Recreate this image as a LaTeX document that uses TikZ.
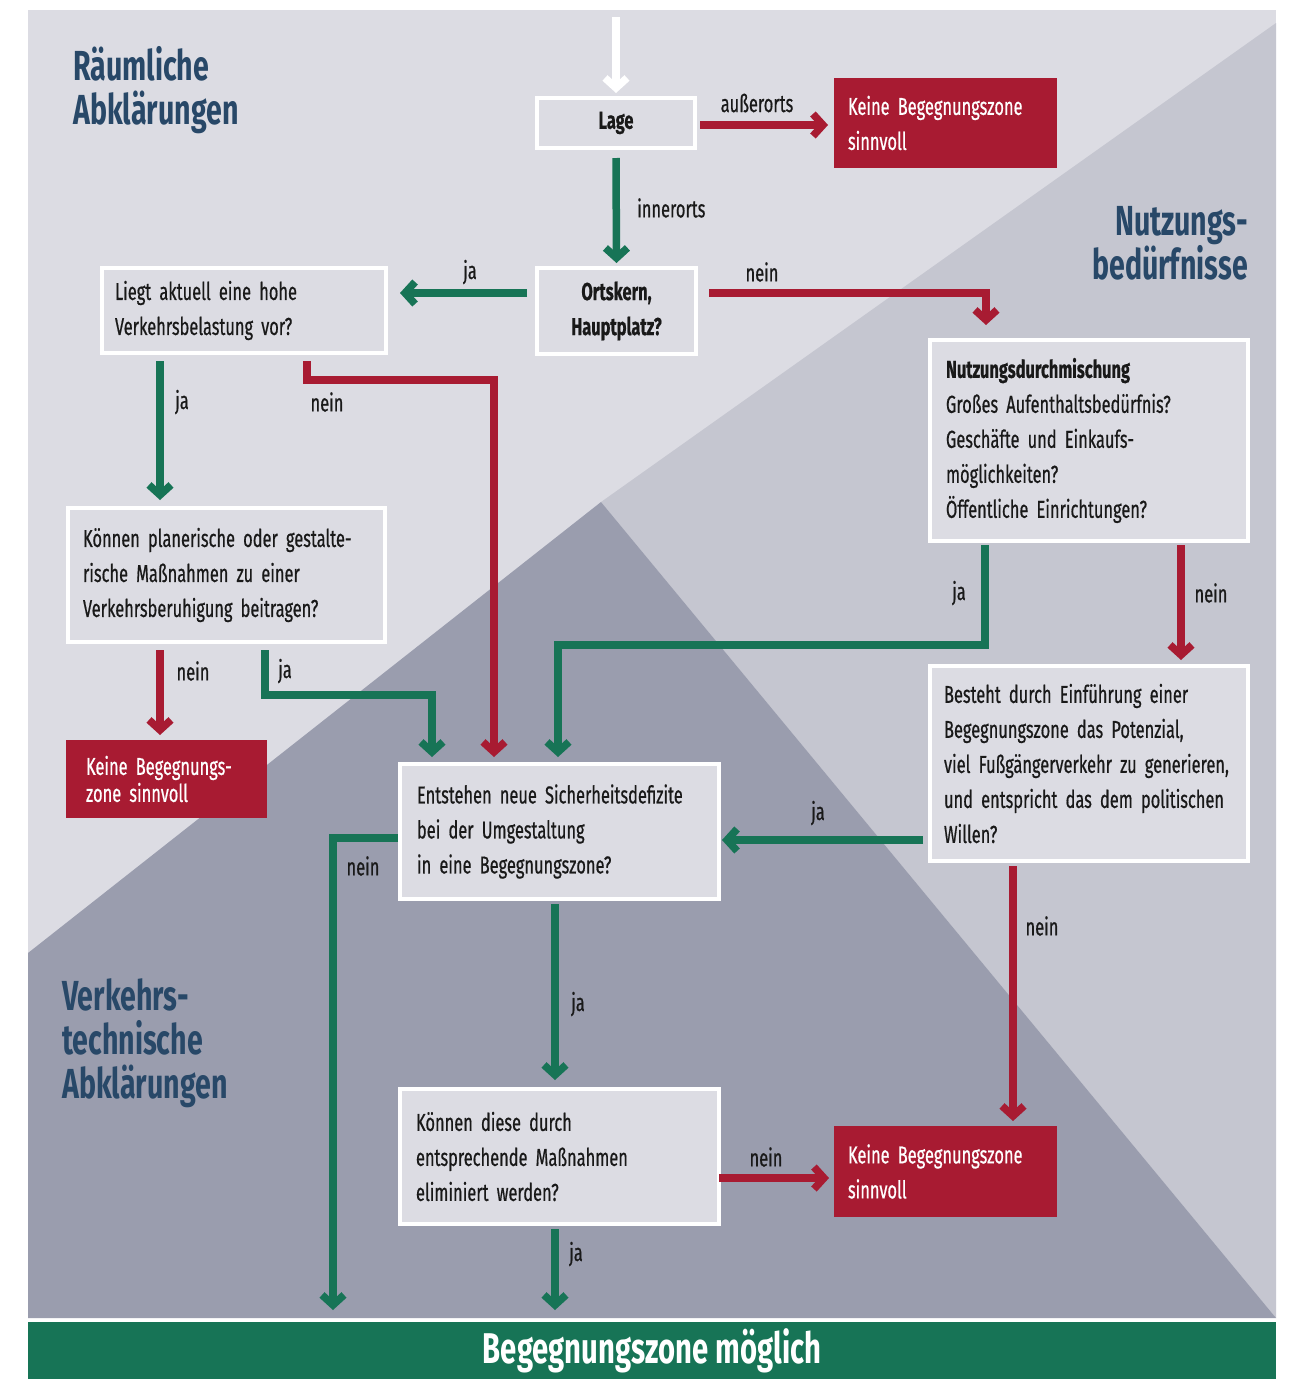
\documentclass[tikz,border=0pt]{standalone}
\usepackage{fontspec}
\setmainfont{Fira Sans}[FakeStretch=0.68]
\newfontfamily\bodyfont{Fira Sans}[FakeStretch=0.67, FakeBold=0.6]
\usetikzlibrary{arrows.meta,calc}
\definecolor{bglight}{RGB}{220,220,227}
\definecolor{bgmid}{RGB}{197,198,208}
\definecolor{bgdark}{RGB}{154,157,174}
\definecolor{boxfill}{RGB}{220,220,227}
\definecolor{arrred}{RGB}{168,27,50}
\definecolor{arrgreen}{RGB}{23,116,86}
\definecolor{titleblue}{RGB}{40,72,104}
\definecolor{txt}{RGB}{25,25,25}
\newcommand\fbody{\bodyfont\fontsize{24.5}{35}\selectfont\spaceskip=3.6pt plus 1pt minus 1pt\relax}
\newcommand\fkeine{\bodyfont\fontsize{24.5}{27}\selectfont\spaceskip=3.6pt plus 1pt minus 1pt\relax}
\newcommand\ftitle{\fontsize{42}{44}\selectfont\bfseries}
\newcommand\fbanner{\fontsize{43}{44}\selectfont\bfseries\spaceskip=7pt\relax}
\begin{document}
\begin{tikzpicture}[x=1pt,y=-1pt,
  qbox/.style={draw=white, line width=4pt, fill=boxfill, anchor=north west,
    inner xsep=13pt, inner ysep=0pt, outer sep=0pt, align=left, font=\fbody, text=txt},
  rbox/.style={fill=arrred, anchor=north west, inner xsep=14pt, inner ysep=0pt,
    outer sep=0pt, align=left, font=\fbody, text=white},
  lbl/.style={font=\fbody, text=txt, inner sep=0pt},
  ttl/.style={font=\ftitle, text=titleblue, inner sep=0pt},
  conn/.style={line width=7.5pt, line join=miter, -{Straight Barb[length=10pt,width=22pt]}},
  gconn/.style={conn, draw=arrgreen},
  rconn/.style={conn, draw=arrred},
  wconn/.style={conn, draw=white}]
\useasboundingbox (0,0) rectangle (1290,1379);
\fill[white] (0,0) rectangle (1290,1379);
% background regions
\fill[bglight] (28,10) rectangle (1276,1318);
\fill[bgmid] (1276,23) -- (601,502) -- (1276,1318) -- cycle;
\fill[bgdark] (601,502) -- (28,953) -- (28,1318) -- (1276,1318) -- cycle;

% section titles
\node[ttl, anchor=north west, align=left] (t1) at (73,46) {Räumliche\\Abklärungen};
\node[ttl, anchor=north east, align=right] (t2) at (1248,206) {Nutzungs-\\bedürfnisse};
\node[ttl, anchor=north west, align=left] (t3) at (62,978) {Verkehrs-\\technische\\Abklärungen};

% banner
\node[fill=arrgreen, anchor=north west, minimum width=1248pt, minimum height=57pt,
  inner sep=0pt, outer sep=0pt, font=\fbanner, text=white]
  (banner) at (28,1322) {\raisebox{-3pt}{Begegnungszone möglich}};

% boxes
\coordinate (start) at (616,17);
\node[qbox, minimum width=158pt, minimum height=50pt, align=center, text width=132pt,
  font=\fbody\bfseries] (lage) at (537,98) {Lage};
\node[rbox, minimum width=223pt, minimum height=90pt, text width=195pt] (k1) at (834,78)
  {Keine Begegnungszone\\sinnvoll};
\node[qbox, minimum width=159pt, minimum height=86pt, align=center, text width=133pt,
  font=\fbody\bfseries] (ort) at (537,268) {Ortskern,\\Hauptplatz?};
\node[qbox, minimum width=284pt, minimum height=85pt, text width=258pt] (liegt) at (102,268)
  {Liegt aktuell eine hohe\\Verkehrsbelastung vor?};
\node[qbox, minimum width=317pt, minimum height=134pt, text width=287pt, inner xsep=15pt] (kpl) at (68,508)
  {Können planerische oder gestalte-\\rische Maßnahmen zu einer\\Verkehrsberuhigung beitragen?};
\node[rbox, minimum width=201pt, minimum height=78pt, text width=161pt, font=\fkeine,
  inner xsep=20pt] (k2) at (66,740) {Keine Begegnungs-\\zone sinnvoll};
\node[qbox, minimum width=318pt, minimum height=201pt, text width=286pt, inner xsep=16pt] (nutz) at (930,340)
  {\textbf{Nutzungsdurchmischung}\\Großes Aufenthaltsbedürfnis?\\Geschäfte und Einkaufs-\\möglichkeiten?\\Öffentliche Einrichtungen?};
\node[qbox, minimum width=318pt, minimum height=195pt, text width=290pt, inner xsep=14pt] (best) at (930,666)
  {Besteht durch Einführung einer\\Begegnungszone das Potenzial,\\viel Fußgängerverkehr zu generieren,\\und entspricht das dem politischen\\Willen?};
\node[qbox, minimum width=319pt, minimum height=135pt, text width=285pt, inner xsep=17pt] (ent) at (400,764)
  {Entstehen neue Sicherheitsdefizite\\bei der Umgestaltung\\in eine Begegnungszone?};
\node[qbox, minimum width=319pt, minimum height=135pt, text width=287pt, inner xsep=16pt] (kd) at (400,1089)
  {Können diese durch\\entsprechende Maßnahmen\\eliminiert werden?};
\node[rbox, minimum width=223pt, minimum height=91pt, text width=195pt] (k3) at (834,1126)
  {Keine Begegnungszone\\sinnvoll};

% connectors
\draw[wconn] (start) -- ($(lage.north)+(0,-5)$);
\draw[rconn] ($(lage.north east)+(5,27)$) -- ($(k1.north west)+(-6,47)$);
\draw[gconn] ($(lage.south)+(0,10)$) -- ($(ort.north)+(0,-5)$);
\draw[gconn] ($(ort.north west)+(-10,25)$) -- ($(liegt.north east)+(14,25)$);
\draw[rconn] ($(ort.north east)+(13,25)$) -| ($(nutz.north west)+(56,-15)$);
\draw[gconn] ($(liegt.south west)+(58,8)$) -- ($(kpl.north west)+(92,-8)$);
\draw[rconn] ($(liegt.south west)+(205,8)$) -- ++(0,19) -| ($(ent.north west)+(94,-7)$);
\draw[rconn] ($(kpl.south west)+(92,8)$) -- ($(k2.north west)+(94,-5)$);
\draw[gconn] ($(kpl.south west)+(197,8)$) -- ++(0,45) -| ($(ent.north west)+(32,-7)$);
\draw[gconn] ($(nutz.south west)+(55,4)$) -- ++(0,100) -| ($(ent.north west)+(158,-7)$);
\draw[rconn] ($(nutz.south west)+(251,4)$) -- ($(best.north west)+(251,-6)$);
\draw[gconn] ($(best.north west)+(-7,174)$) -- ($(ent.north east)+(3,76)$);
\draw[gconn] ($(ent.north west)+(-2,74)$) -| ($(banner.north west)+(305,-12)$);
\draw[rconn] ($(best.south west)+(83,5)$) -- ($(k3.north west)+(179,-5)$);
\draw[gconn] ($(ent.south west)+(155,5)$) -- ($(kd.north west)+(155,-9)$);
\draw[rconn] ($(kd.north east)+(0,89)$) -- ($(k3.north west)+(-5,52)$);
\draw[gconn] ($(kd.south west)+(155,5)$) -- ($(banner.north west)+(527,-12)$);

% connector labels
\node[lbl] (l1) at (757,103) {außerorts};
\node[lbl, anchor=west] (l2) at (637,208) {innerorts};
\node[lbl] (l3) at (470,272) {ja};
\node[lbl] (l4) at (762,272) {nein};
\node[lbl] (l5) at (182,402) {ja};
\node[lbl] (l6) at (327,402) {nein};
\node[lbl] (l7) at (193,671) {nein};
\node[lbl] (l8) at (285,671) {ja};
\node[lbl] (l9) at (959,593) {ja};
\node[lbl] (l10) at (1211,593) {nein};
\node[lbl] (l11) at (818,813) {ja};
\node[lbl] (l12) at (363,866) {nein};
\node[lbl] (l13) at (1042,926) {nein};
\node[lbl] (l14) at (578,1004) {ja};
\node[lbl] (l15) at (766,1157) {nein};
\node[lbl] (l16) at (576,1254) {ja};
\end{tikzpicture}
\end{document}
